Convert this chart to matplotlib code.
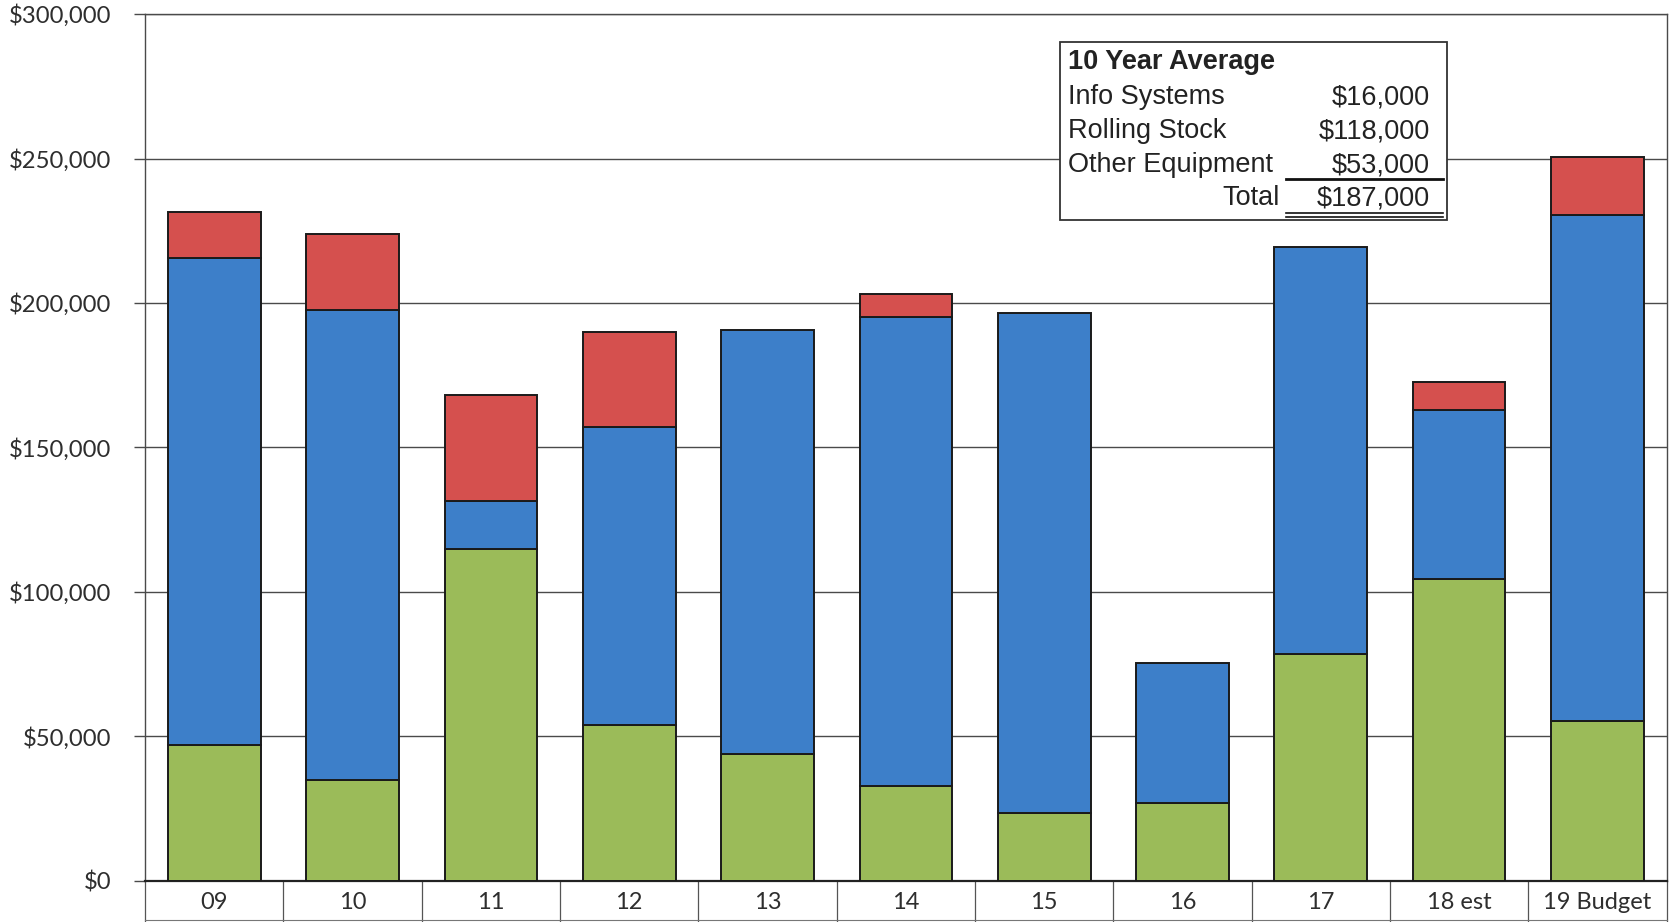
import matplotlib
matplotlib.use("Agg")
import matplotlib.pyplot as plt
from matplotlib.patches import Rectangle
from matplotlib.lines import Line2D
from matplotlib.ticker import FuncFormatter
import numpy as np

categories = ["09", "10", "11", "12", "13", "14", "15", "16", "17", "18 est", "19 Budget"]
other_equipment = [47000, 35000, 115000, 54000, 44000, 33000, 23500, 27000, 78500, 104500, 55500]
rolling_stock = [168500, 162500, 16500, 103000, 146500, 162000, 173000, 48500, 141000, 58500, 175000]
info_systems = [16000, 26500, 36500, 33000, 0, 8000, 0, 0, 0, 9500, 20000]

avg_labels = ["Info Systems", "Rolling Stock", "Other Equipment"]
avg_values = ["$16,000", "$118,000", "$53,000"]
avg_total = "$187,000"

GREEN = "#9bbb59"
BLUE = "#3d7fc9"
RED = "#d5504e"
GRID = "#4a4a4a"

fig = plt.figure(figsize=(16.75, 9.22), dpi=100)
ax = fig.add_axes([0.0866, 0.0445, 0.9084, 0.9403])

x = np.arange(len(categories))
w = 0.67
ax.bar(x, other_equipment, w, color=GREEN, edgecolor="#1a1a1a", linewidth=1.4, zorder=3)
ax.bar(x, rolling_stock, w, bottom=other_equipment, color=BLUE, edgecolor="#1a1a1a",
       linewidth=1.4, zorder=3)
red_bottom = np.add(other_equipment, rolling_stock)
for xi, h, b in zip(x, info_systems, red_bottom):
    if h > 0:
        ax.bar(xi, h, w, bottom=b, color=RED, edgecolor="#1a1a1a", linewidth=1.4, zorder=3)

ax.set_xlim(-0.5, len(categories) - 0.5)
ax.set_ylim(0, 300000)
ax.set_yticks(np.arange(0, 300001, 50000))
ax.yaxis.set_major_formatter(FuncFormatter(lambda v, p: f"${v:,.0f}"))
ax.tick_params(axis="y", length=8, width=1.0, color=GRID, pad=16,
               labelsize=17.2, labelcolor="#2e2e2e")
for lab in ax.get_yticklabels():
    lab.set_fontfamily("Lato")
ax.set_xticks([])
ax.grid(axis="y", color=GRID, linewidth=1.0, zorder=0)

for s in ["left", "right", "top"]:
    ax.spines[s].set_color(GRID)
    ax.spines[s].set_linewidth(1.0)
ax.spines["bottom"].set_color("#222222")
ax.spines["bottom"].set_linewidth(1.6)

# category table below the axis
trans = ax.get_xaxis_transform()
for b in np.arange(-0.5, len(categories) + 0.5, 1.0):
    ax.add_line(Line2D([b, b], [0, -0.05], transform=trans, color="#555555",
                       linewidth=0.9, clip_on=False))
ax.add_line(Line2D([-0.5, len(categories) - 0.5], [-0.0445, -0.0445], transform=trans,
                   color="#777777", linewidth=0.8, clip_on=False))
for xi, c in zip(x, categories):
    ax.text(xi, -0.0245, c, transform=trans, ha="center", va="center",
            fontsize=17, family="Lato", color="#2e2e2e")

# 10-year average summary box
fx = lambda px: px / 1675
fy = lambda py: 1 - py / 922
fig.patches.append(Rectangle((fx(1060), fy(220)), fx(1447) - fx(1060), fy(42) - fy(220),
                             transform=fig.transFigure, facecolor="white",
                             edgecolor="#333333", linewidth=1.3, zorder=5))
tf = dict(family="Liberation Sans", fontsize=19.5, color="#222222", zorder=6)
fig.text(fx(1068), fy(69), "10 Year Average", ha="left", va="baseline",
         fontweight="bold", **tf)
for i, (lab, val) in enumerate(zip(avg_labels, avg_values)):
    yb = fy(104 + 34 * i)
    fig.text(fx(1068), yb, lab, ha="left", va="baseline", **tf)
    fig.text(fx(1430), yb, val, ha="right", va="baseline", **tf)
fig.text(fx(1280), fy(205), "Total", ha="right", va="baseline", **tf)
fig.text(fx(1430), fy(205), avg_total, ha="right", va="baseline", **tf)
fig.lines.append(Line2D([fx(1286), fx(1443)], [fy(179), fy(179)], transform=fig.transFigure,
                        color="#111111", linewidth=2.0, zorder=6))
for yy in (fy(213.5), fy(216.5)):
    fig.lines.append(Line2D([fx(1286), fx(1443)], [yy, yy], transform=fig.transFigure,
                            color="#111111", linewidth=1.2, zorder=6))

fig.savefig("out.png", dpi=100, facecolor="white")
